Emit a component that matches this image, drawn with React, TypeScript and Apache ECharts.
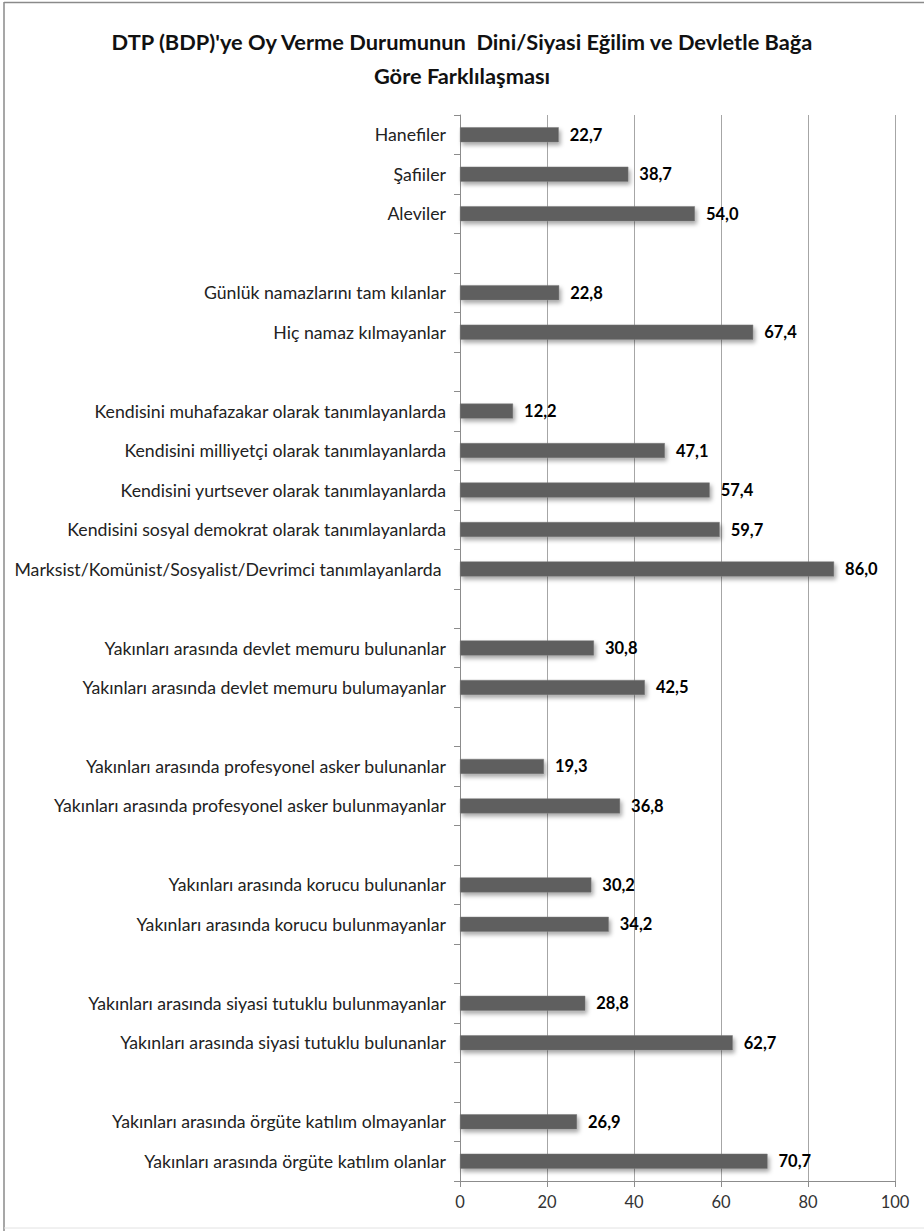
import React, { useEffect, useRef } from "react";
import * as echarts from "echarts";

const TITLE_LINE_1 = "DTP (BDP)'ye Oy Verme Durumunun  Dini/Siyasi Eğilim ve Devletle Bağa";
const TITLE_LINE_2 = "Göre Farklılaşması";

const categories: string[] = [
  "Hanefiler",
  "Şafiiler",
  "Aleviler",
  " ",
  "Günlük namazlarını tam kılanlar",
  "Hiç namaz kılmayanlar",
  "  ",
  "Kendisini muhafazakar olarak tanımlayanlarda",
  "Kendisini milliyetçi olarak tanımlayanlarda",
  "Kendisini yurtsever olarak tanımlayanlarda",
  "Kendisini sosyal demokrat olarak tanımlayanlarda",
  "Marksist/Komünist/Sosyalist/Devrimci tanımlayanlarda ",
  "   ",
  "Yakınları arasında devlet memuru bulunanlar",
  "Yakınları arasında devlet memuru bulumayanlar",
  "    ",
  "Yakınları arasında profesyonel asker bulunanlar",
  "Yakınları arasında profesyonel asker bulunmayanlar",
  "     ",
  "Yakınları arasında korucu bulunanlar",
  "Yakınları arasında korucu bulunmayanlar",
  "      ",
  "Yakınları arasında siyasi tutuklu bulunmayanlar",
  "Yakınları arasında siyasi tutuklu bulunanlar",
  "       ",
  "Yakınları arasında örgüte katılım olmayanlar",
  "Yakınları arasında örgüte katılım olanlar",
];

const values: (number | null)[] = [
  22.7, 38.7, 54.0, null,
  22.8, 67.4, null,
  12.2, 47.1, 57.4, 59.7, 86.0, null,
  30.8, 42.5, null,
  19.3, 36.8, null,
  30.2, 34.2, null,
  28.8, 62.7, null,
  26.9, 70.7,
];

const xTicks = [0, 20, 40, 60, 80, 100];

export default function App() {
  const ref = useRef<HTMLDivElement>(null);
  useEffect(() => {
    if (!ref.current) return;
    const chart = echarts.init(ref.current, null, { renderer: "svg" });
    const font = "Lato, 'Open Sans', sans-serif";
    chart.setOption({
      animation: false,
      backgroundColor: "#ffffff",
      title: [
        {
          text: TITLE_LINE_1 + "\n" + TITLE_LINE_2,
          left: "center",
          top: 19,
          textStyle: {
            fontFamily: font,
            fontSize: 21.8,
            fontWeight: "bold",
            color: "#111111",
            lineHeight: 34,
          },
        },
      ],
      graphic: [
        { type: "line", shape: { x1: 4, y1: 2, x2: 4, y2: 1231 }, style: { stroke: "#8a8a8a", lineWidth: 1.5 } },
        { type: "line", shape: { x1: 4, y1: 2.5, x2: 924, y2: 2.5 }, style: { stroke: "#8a8a8a", lineWidth: 1.5 } },
        { type: "line", shape: { x1: 4, y1: 1228, x2: 924, y2: 1228 }, style: { stroke: "#e2e2e2", lineWidth: 1 } },
      ],
      grid: { left: 460, right: 29, top: 115, bottom: 50, containLabel: false },
      xAxis: {
        type: "value",
        min: 0,
        max: 100,
        interval: 20,
        axisLine: { show: true, lineStyle: { color: "#8c8c8c", width: 1 } },
        axisTick: { show: true, length: 6, lineStyle: { color: "#8c8c8c" } },
        axisLabel: {
          fontFamily: font,
          fontSize: 16.5,
          color: "#333333",
          margin: 12,
          formatter: (v: number) => (xTicks.includes(v) ? String(v) : ""),
        },
        splitLine: { show: true, lineStyle: { color: "#a6a6a6", width: 1 } },
      },
      yAxis: {
        type: "category",
        inverse: true,
        data: categories,
        axisLine: { show: true, lineStyle: { color: "#8c8c8c", width: 1 } },
        axisTick: { show: true, length: 6, interval: 0, lineStyle: { color: "#8c8c8c" } },
        axisLabel: {
          interval: 0,
          fontFamily: font,
          fontSize: 17.7,
          color: "#222222",
          margin: 14,
        },
      },
      series: [
        {
          type: "bar",
          data: values,
          barWidth: 15,
          itemStyle: {
            color: "#5e5e5e",
            borderColor: "#7a7a7a",
            borderWidth: 0.5,
            shadowColor: "rgba(0,0,0,0.35)",
            shadowBlur: 4,
            shadowOffsetX: 2,
            shadowOffsetY: 3,
          },
          label: {
            show: true,
            position: "right",
            distance: 11,
            fontFamily: font,
            fontSize: 16.5,
            fontWeight: "bold",
            color: "#000000",
            formatter: (p: any) =>
              p.value == null ? "" : Number(p.value).toFixed(1).replace(".", ","),
          },
        },
      ],
    });
    return () => chart.dispose();
  }, []);
  return (
    <div
      ref={ref}
      style={{ position: "fixed", left: 0, top: 0, width: 924, height: 1231 }}
    />
  );
}
